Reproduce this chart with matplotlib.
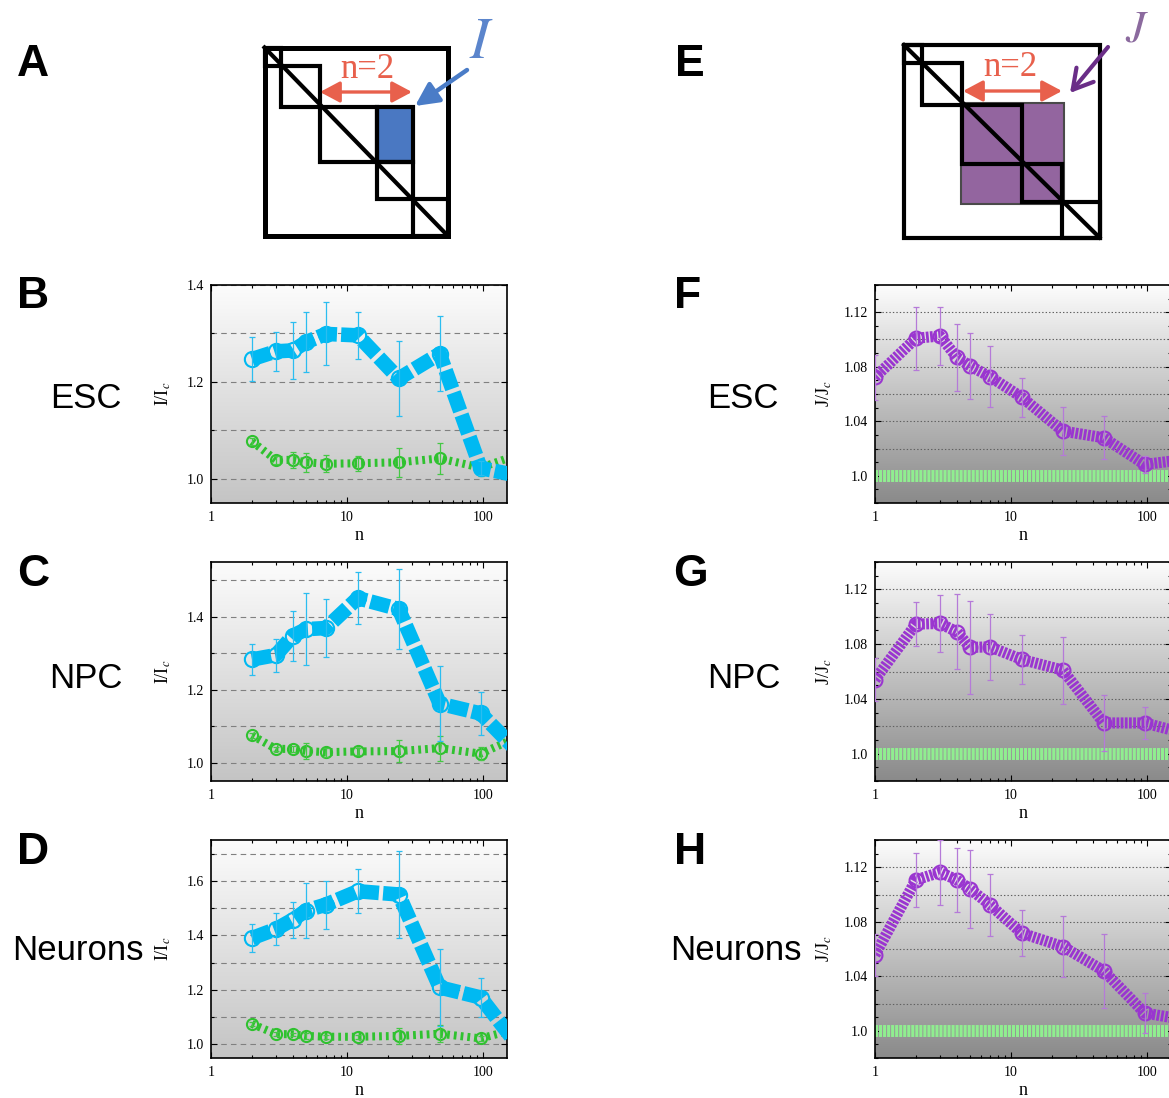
import numpy as np
import matplotlib.pyplot as plt
from matplotlib.colors import LinearSegmentedColormap
from matplotlib.patches import Rectangle
from matplotlib.ticker import MultipleLocator, LogLocator, NullFormatter

plt.rcParams['font.family'] = ['Liberation Serif', 'DejaVu Serif']
plt.rcParams['mathtext.fontset'] = 'stix'
plt.rcParams['lines.scale_dashes'] = False

W, H = 1169, 1098

# ---- data ----
n_I = [2, 3, 4, 5, 7, 12, 24, 48, 96, 192]
n_J = [1, 2, 3, 4, 5, 7, 12, 24, 48, 96, 192]

# I/Ic, observed (blue) and control (green)
esc_I = [1.247, 1.263, 1.265, 1.282, 1.299, 1.296, 1.207, 1.258, 1.022, 1.005]
esc_I_err = [0.045, 0.041, 0.059, 0.062, 0.065, 0.048, 0.078, 0.077, 0.015, 0]
esc_Ic = [1.077, 1.039, 1.039, 1.034, 1.031, 1.032, 1.034, 1.042, 1.023, 1.052]
esc_Ic_err = [0.008, 0.008, 0.016, 0.020, 0.018, 0.016, 0.030, 0.032, 0.017, 0]

npc_I = [1.283, 1.295, 1.348, 1.366, 1.369, 1.451, 1.421, 1.162, 1.135, 1.020]
npc_I_err = [0.043, 0.045, 0.068, 0.099, 0.079, 0.071, 0.109, 0.103, 0.058, 0]
npc_Ic = [1.075, 1.038, 1.038, 1.032, 1.029, 1.031, 1.032, 1.040, 1.025, 1.075]
npc_Ic_err = [0.006, 0.006, 0.008, 0.023, 0.012, 0.010, 0.030, 0.034, 0.018, 0]

neu_I = [1.390, 1.423, 1.458, 1.491, 1.513, 1.562, 1.550, 1.209, 1.172, 0.978]
neu_I_err = [0.051, 0.058, 0.066, 0.100, 0.088, 0.081, 0.158, 0.140, 0.072, 0]
neu_Ic = [1.075, 1.038, 1.037, 1.031, 1.028, 1.028, 1.031, 1.039, 1.022, 1.061]
neu_Ic_err = [0.006, 0.006, 0.006, 0.010, 0.008, 0.008, 0.030, 0.032, 0.010, 0]

# J/Jc
esc_J = [1.0723, 1.1009, 1.1026, 1.0869, 1.0806, 1.0727, 1.0576, 1.0328, 1.0279, 1.0083, 1.012]
esc_J_err = [0.0166, 0.023, 0.021, 0.0246, 0.0242, 0.0223, 0.0145, 0.0178, 0.0157, 0.006, 0]
npc_J = [1.0541, 1.0946, 1.0951, 1.089, 1.0776, 1.078, 1.0688, 1.061, 1.0224, 1.0224, 1.0146]
npc_J_err = [0.0156, 0.0159, 0.0208, 0.0275, 0.0342, 0.0242, 0.0179, 0.0244, 0.0206, 0.0116, 0]
neu_J = [1.0557, 1.1107, 1.1163, 1.1107, 1.1041, 1.0924, 1.0716, 1.0618, 1.044, 1.013, 1.008]
neu_J_err = [0.0153, 0.020, 0.024, 0.0232, 0.0288, 0.0228, 0.0169, 0.0227, 0.027, 0.0149, 0]
J_control = 1.0

cell_types = ['ESC', 'NPC', 'Neurons']
I_ylims = [(0.95, 1.4), (0.95, 1.55), (0.95, 1.75)]

BLUE = '#00b9f2'
GREEN = '#2fc22f'
PURPLE = '#9a35d0'
RED = '#e8604c'

fig = plt.figure(figsize=(W / 100, H / 100), dpi=100)


def px_axes(left, top, right, bottom, **kw):
    return fig.add_axes([left / W, 1 - bottom / H, (right - left) / W, (bottom - top) / H], **kw)


# overlay in pixel coordinates for schematics and labels
ov = px_axes(0, 0, W, H)
ov.set_xlim(0, W)
ov.set_ylim(H, 0)
ov.axis('off')


def schematic(bx, by, lw_out):
    ov.add_patch(Rectangle((bx[0], by[0]), bx[-1] - bx[0], by[-1] - by[0],
                           fill=False, ec='k', lw=lw_out, zorder=3))
    for i in range(len(bx) - 1):
        ov.add_patch(Rectangle((bx[i], by[i]), bx[i + 1] - bx[i], by[i + 1] - by[i],
                               fill=False, ec='k', lw=3.0, zorder=3))
    ov.plot([bx[0], bx[-1]], [by[0], by[-1]], color='k', lw=3.0, zorder=3)


# panel A
ax_b = [264.5, 281, 320, 377, 413, 447.5]
ay_b = [47.5, 66, 107, 162, 199, 235.5]
ov.add_patch(Rectangle((ax_b[3], ay_b[2]), ax_b[4] - ax_b[3], ay_b[3] - ay_b[2],
                       fc='#4a78c2', ec='k', lw=3.0, zorder=3))
schematic(ax_b, ay_b, 3.6)
ov.annotate('', xy=(320, 92), xytext=(412, 92),
            arrowprops=dict(arrowstyle='<|-|>,head_length=0.6,head_width=0.32',
                            color=RED, lw=2.4, mutation_scale=20, shrinkA=0, shrinkB=0))
ov.text(367, 70, 'n=2', color=RED, fontsize=25, ha='center', va='center')
ov.annotate('', xy=(415, 106), xytext=(467, 70),
            arrowprops=dict(arrowstyle='-|>,head_length=0.7,head_width=0.35',
                            color='#4a7cc7', lw=3.2, mutation_scale=20, shrinkA=0, shrinkB=0))
ov.text(481, 44, '$I$', color='#5b85cc', fontsize=42, ha='center', va='center')

# panel E
ex_b = [904, 922, 962, 1022, 1062, 1099.5]
ey_b = [45, 63, 105, 164, 202, 237.5]
ov.add_patch(Rectangle((961, 103), 103, 101, fc='#93659f', ec='#4a4a4a', lw=1.5, zorder=2))
schematic(ex_b, ey_b, 3.0)
ov.annotate('', xy=(963, 91), xytext=(1062, 91),
            arrowprops=dict(arrowstyle='<|-|>,head_length=0.6,head_width=0.32',
                            color=RED, lw=2.4, mutation_scale=20, shrinkA=0, shrinkB=0))
ov.text(1010, 68, 'n=2', color=RED, fontsize=25, ha='center', va='center')
ov.annotate('', xy=(1070, 93), xytext=(1108, 47),
            arrowprops=dict(arrowstyle='->,head_length=0.7,head_width=0.4',
                            color='#6a2d87', lw=3, mutation_scale=20, shrinkA=0, shrinkB=0))
ov.text(1137, 30, '$J$', color='#8b6a9e', fontsize=32, ha='center', va='center')

# panel letters and cell type labels
for lab, x, y in [('A', 33, 65), ('B', 33, 297), ('C', 33, 575), ('D', 33, 853),
                  ('E', 690, 65), ('F', 688, 297), ('G', 690, 575), ('H', 690, 853)]:
    ov.text(x, y, lab, fontsize=32, fontweight='bold', family='Liberation Sans',
            ha='center', va='center')
for name, xl, xr, y in zip(cell_types, [86, 86, 78], [743, 744, 736], [398, 678, 951]):
    ov.text(xl, y, name, fontsize=25, family='Liberation Sans', ha='center', va='center')
    ov.text(xr, y, name, fontsize=25, family='Liberation Sans', ha='center', va='center')

grad = np.linspace(0, 1, 256).reshape(-1, 1)
cm_I = LinearSegmentedColormap.from_list('bgI', ['#fcfcfc', '#c4c4c4'])
cm_J = LinearSegmentedColormap.from_list('bgJ', ['#fcfcfc', '#8a8a8a'])


def base_axes(ax, cmap):
    ax.imshow(grad, extent=(0, 1, 0, 1), transform=ax.transAxes, aspect='auto',
              cmap=cmap, zorder=0, interpolation='bilinear')
    ax.set_xscale('log')
    ax.set_xticks([1, 10, 100])
    ax.set_xticklabels(['1', '10', '100'])
    ax.xaxis.set_minor_locator(LogLocator(base=10, subs=np.arange(2, 10)))
    ax.xaxis.set_minor_formatter(NullFormatter())
    ax.set_xlim(1, 150)
    ax.tick_params(which='both', direction='in', top=True, right=True,
                   labelsize=10, pad=5, width=0.8)
    ax.tick_params(axis='x', pad=6)
    ax.tick_params(which='major', length=4)
    ax.tick_params(which='minor', length=2)
    for s in ax.spines.values():
        s.set_linewidth(1.2)
    ax.set_xlabel('n', fontsize=13, labelpad=2)


rows = [(285, 503), (562, 781), (840, 1058)]
I_data = [(esc_I, esc_I_err, esc_Ic, esc_Ic_err),
          (npc_I, npc_I_err, npc_Ic, npc_Ic_err),
          (neu_I, neu_I_err, neu_Ic, neu_Ic_err)]
J_data = [(esc_J, esc_J_err), (npc_J, npc_J_err), (neu_J, neu_J_err)]

for (top, bot), (obs, obs_err, ctl, ctl_err), ylim in zip(rows, I_data, I_ylims):
    ax = px_axes(211, top, 507, bot)
    base_axes(ax, cm_I)
    ax.yaxis.set_major_locator(MultipleLocator(0.2))
    ax.yaxis.set_minor_locator(MultipleLocator(0.1))
    ax.yaxis.set_major_formatter(plt.FormatStrFormatter('%.1f'))
    ax.set_ylim(*ylim)
    ax.grid(True, which='both', axis='y', color='#808080', lw=0.8, ls=(0, (4, 3)), zorder=1)
    ax.plot(n_I, ctl, color=GREEN, lw=5.8, dashes=(2.0, 2.9), dash_capstyle='butt',
            marker='o', ms=8, mfc='none', mec=GREEN, mew=1.5, zorder=3)
    ax.errorbar(n_I, ctl, yerr=ctl_err, fmt='none', ecolor='#45c845', elinewidth=0.9,
                capsize=2.5, capthick=0.9, zorder=4)
    ax.plot(n_I, obs, color=BLUE, lw=10.5, dashes=(14, 3), dash_capstyle='butt',
            marker='o', ms=11, mfc='none', mec=BLUE, mew=1.5, zorder=5)
    ax.errorbar(n_I, obs, yerr=obs_err, fmt='none', ecolor='#2bbdf0', elinewidth=0.9,
                capsize=2.5, capthick=0.9, zorder=6)
    ax.set_ylabel(r'I/I$_c$', fontsize=13)
    ax.yaxis.set_label_coords(-0.13, 0.5)

for (top, bot), (obs, obs_err) in zip(rows, J_data):
    ax = px_axes(875, top, 1171, bot)
    base_axes(ax, cm_J)
    ax.set_yticks([1.0, 1.04, 1.08, 1.12])
    ax.set_yticklabels(['1.0', '1.04', '1.08', '1.12'])
    ax.yaxis.set_minor_locator(MultipleLocator(0.01))
    ax.set_ylim(0.98, 1.14)
    for g in np.arange(1.02, 1.13, 0.02):
        ax.axhline(g, color='#606060', lw=0.8, ls=(0, (1, 1.5)), zorder=1)
    ax.axhline(J_control, color='#90ee90', lw=8.6, dashes=(2.2, 0.7),
               dash_capstyle='butt', zorder=2)
    ax.plot(n_J, obs, color=PURPLE, lw=8, dashes=(2.0, 1.0), dash_capstyle='butt',
            marker='o', ms=10, mfc='none', mec=PURPLE, mew=1.5, zorder=5)
    ax.errorbar(n_J, obs, yerr=obs_err, fmt='none', ecolor='#b57ad8', elinewidth=0.9,
                capsize=2.5, capthick=0.9, zorder=6)
    ax.set_ylabel(r'J/J$_c$', fontsize=13)
    ax.yaxis.set_label_coords(-0.14, 0.5)

fig.savefig('out.png', dpi=100)
